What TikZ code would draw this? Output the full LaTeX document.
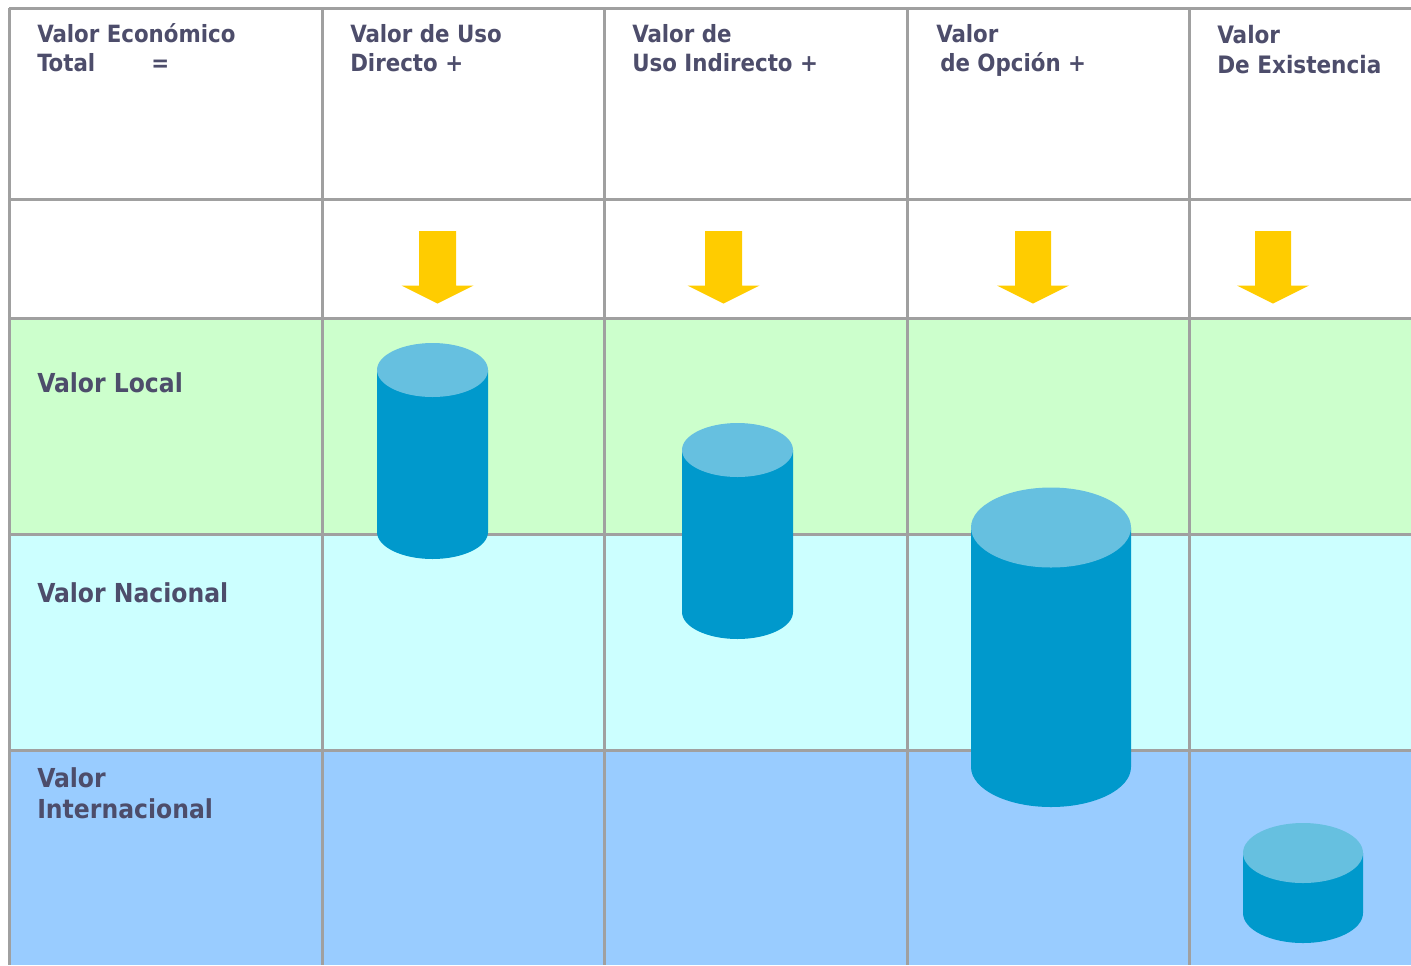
\documentclass[tikz,border=0pt]{standalone}
\usepackage{fontspec}
\setmainfont{DejaVu Sans Condensed}
\definecolor{texto}{RGB}{77,77,107}
\definecolor{rejillagris}{RGB}{160,160,160}
\definecolor{verdeloc}{RGB}{204,255,204}
\definecolor{cyannac}{RGB}{204,255,255}
\definecolor{azulint}{RGB}{153,204,255}
\definecolor{amarillo}{RGB}{255,204,0}
\definecolor{cuerpoazul}{RGB}{0,153,204}
\definecolor{tapaazul}{RGB}{102,192,224}
\tikzset{
  rejilla/.style={color=rejillagris,line width=2.25pt},
  flecha/.style={fill=amarillo},
  cuerpo/.style={fill=cuerpoazul},
  tapa/.style={fill=tapaazul},
  cabecera/.style={anchor=base west,inner sep=0pt,align=left,color=texto,font=\fontsize{17.8}{21.6}\selectfont\bfseries},
  fila/.style={anchor=base west,inner sep=0pt,align=left,color=texto,font=\fontsize{19.6}{23.25}\selectfont\bfseries}
}
\begin{document}
\begin{tikzpicture}[x=0.75pt,y=0.75pt,yscale=-1,xscale=1]
\useasboundingbox (0,0) rectangle (1411,965);

%filas de color
\fill [verdeloc] (9,318) rectangle (1411,534);
\fill [cyannac] (9,534) rectangle (1411,750);
\fill [azulint] (9,750) rectangle (1411,965);

%rejilla
\draw [rejilla] (9,8) -- (1411,8);
\draw [rejilla] (9,199) -- (1411,199);
\draw [rejilla] (9,318) -- (1411,318);
\draw [rejilla] (9,534) -- (1411,534);
\draw [rejilla] (9,750) -- (1411,750);
\draw [rejilla] (9,8) -- (9,965);
\draw [rejilla] (322,8) -- (322,965);
\draw [rejilla] (604,8) -- (604,965);
\draw [rejilla] (907,8) -- (907,965);
\draw [rejilla] (1189,8) -- (1189,965);

%flechas
\fill [flecha] (419,231) -- (456,231) -- (456,285.5) -- (473.5,285.5) -- (437.5,303.5) -- (401.5,285.5) -- (419,285.5) -- cycle;
\fill [flecha] (705,231) -- (742,231) -- (742,285.5) -- (759.5,285.5) -- (723.5,303.5) -- (687.5,285.5) -- (705,285.5) -- cycle;
\fill [flecha] (1015,231) -- (1051,231) -- (1051,285.5) -- (1069,285.5) -- (1033,303.5) -- (997,285.5) -- (1015,285.5) -- cycle;
\fill [flecha] (1255,231) -- (1291,231) -- (1291,285.5) -- (1309,285.5) -- (1273,303.5) -- (1237,285.5) -- (1255,285.5) -- cycle;

%cilindros
\fill [cuerpo] (377,370) -- (377,532) arc [start angle=180,end angle=0,x radius=55.5,y radius=27] -- (488,370) -- cycle;
\fill [tapa] (432.5,370) ellipse [x radius=55.5,y radius=27];
\fill [cuerpo] (682,450) -- (682,612) arc [start angle=180,end angle=0,x radius=55.5,y radius=27] -- (793,450) -- cycle;
\fill [tapa] (737.5,450) ellipse [x radius=55.5,y radius=27];
\fill [cuerpo] (971,527.5) -- (971,767) arc [start angle=180,end angle=0,x radius=80,y radius=40] -- (1131,527.5) -- cycle;
\fill [tapa] (1051,527.5) ellipse [x radius=80,y radius=40];
\fill [cuerpo] (1243,853) -- (1243,913) arc [start angle=180,end angle=0,x radius=60,y radius=30] -- (1363,853) -- cycle;
\fill [tapa] (1303,853) ellipse [x radius=60,y radius=30];

%textos
\draw (37,71) node [cabecera] (vet) {Valor Económico\\Total\hspace{42pt}=};
\draw (350,71) node [cabecera] (vud) {Valor de Uso\\Directo +};
\draw (632,71) node [cabecera] (vui) {Valor de\\Uso Indirecto +};
\draw (936,71) node [cabecera] (vop) {Valor\\\hspace*{3pt}de Opción +};
\draw (1217,73) node [cabecera,font=\fontsize{18}{22.5}\selectfont\bfseries] (vex) {Valor\\De Existencia};
\draw (37,392) node [fila] (vloc) {Valor Local};
\draw (37,602) node [fila] (vnac) {Valor Nacional};
\draw (37,818) node [fila] (vint) {Valor\\Internacional};

\end{tikzpicture}
\end{document}
